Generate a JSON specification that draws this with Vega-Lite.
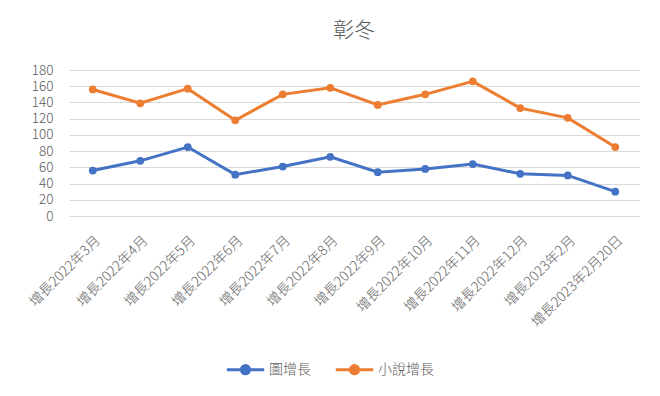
{
  "$schema": "https://vega.github.io/schema/vega-lite/v6.json",
  "width": 570,
  "height": 146,
  "autosize": {"type": "none"},
  "padding": {"left": 69, "top": 70, "right": 21, "bottom": 180},
  "background": "white",
  "title": {"text": "彰冬", "fontSize": 21, "font": "Noto Sans CJK TC", "fontWeight": 300, "color": "#595959", "anchor": "middle", "offset": 22},
  "config": {
    "view": {"stroke": null},
    "font": "Noto Sans CJK TC"
  },
  "data": {"values": [
    {"m": "增長2022年3月", "s": "圖增長", "v": 56},
    {"m": "增長2022年4月", "s": "圖增長", "v": 68},
    {"m": "增長2022年5月", "s": "圖增長", "v": 85},
    {"m": "增長2022年6月", "s": "圖增長", "v": 51},
    {"m": "增長2022年7月", "s": "圖增長", "v": 61},
    {"m": "增長2022年8月", "s": "圖增長", "v": 73},
    {"m": "增長2022年9月", "s": "圖增長", "v": 54},
    {"m": "增長2022年10月", "s": "圖增長", "v": 58},
    {"m": "增長2022年11月", "s": "圖增長", "v": 64},
    {"m": "增長2022年12月", "s": "圖增長", "v": 52},
    {"m": "增長2023年2月", "s": "圖增長", "v": 50},
    {"m": "增長2023年2月20日", "s": "圖增長", "v": 30},
    {"m": "增長2022年3月", "s": "小說增長", "v": 156},
    {"m": "增長2022年4月", "s": "小說增長", "v": 139},
    {"m": "增長2022年5月", "s": "小說增長", "v": 157},
    {"m": "增長2022年6月", "s": "小說增長", "v": 118},
    {"m": "增長2022年7月", "s": "小說增長", "v": 150},
    {"m": "增長2022年8月", "s": "小說增長", "v": 158},
    {"m": "增長2022年9月", "s": "小說增長", "v": 137},
    {"m": "增長2022年10月", "s": "小說增長", "v": 150},
    {"m": "增長2022年11月", "s": "小說增長", "v": 166},
    {"m": "增長2022年12月", "s": "小說增長", "v": 133},
    {"m": "增長2023年2月", "s": "小說增長", "v": 121},
    {"m": "增長2023年2月20日", "s": "小說增長", "v": 85}
  ]},
  "mark": {"type": "line", "strokeWidth": 3, "point": {"filled": true, "size": 60}},
  "encoding": {
    "x": {
      "field": "m", "type": "ordinal", "sort": null, "title": null,
      "scale": {"type": "point", "padding": 0.5},
      "axis": {"labelAngle": -45, "labelFontSize": 14, "labelFontWeight": 300, "labelColor": "#666666", "ticks": false, "domainColor": "#d9d9d9", "labelPadding": 17, "labelFont": "Noto Sans CJK TC", "labelLimit": 200}
    },
    "y": {
      "field": "v", "type": "quantitative", "title": null,
      "scale": {"domain": [0, 180], "nice": false},
      "axis": {"values": [0, 20, 40, 60, 80, 100, 120, 140, 160, 180], "labelFontSize": 13.5, "labelFontWeight": 300, "labelColor": "#595959", "ticks": false, "domain": false, "gridColor": "#d9d9d9", "labelPadding": 16, "labelFont": "Noto Sans CJK TC"}
    },
    "color": {
      "field": "s", "type": "nominal", "title": null,
      "scale": {"domain": ["圖增長", "小說增長"], "range": ["#4472C4", "#ED7D31"]},
      "legend": {
        "orient": "none", "direction": "horizontal", "legendX": 156, "legendY": 279,
        "symbolType": "M-1,0L-0.22,0A0.22,0.22,0,1,1,0.22,0A0.22,0.22,0,1,1,-0.22,0M0.22,0L1,0",
        "symbolSize": 1400, "symbolStrokeWidth": 3,
        "labelFontSize": 14, "labelFontWeight": 300, "labelColor": "#595959", "labelFont": "Noto Sans CJK TC",
        "columnPadding": 18, "labelOffset": 3,
        "encode": {"symbols": {"update": {"fill": {"scale": "color", "field": "value"}, "stroke": {"scale": "color", "field": "value"}}}}
      }
    }
  }
}
